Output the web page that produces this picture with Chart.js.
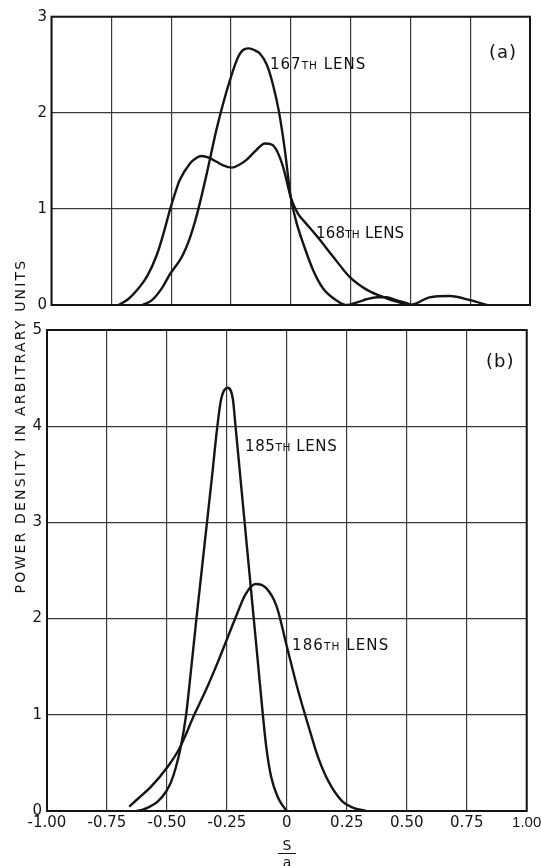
<!DOCTYPE html>
<html>
<head>
<meta charset="utf-8">
<script src="https://cdn.jsdelivr.net/npm/chart.js@4"></script>
<style>
html,body{margin:0;padding:0;background:#fff;width:541px;height:866px;overflow:hidden;position:relative;}
canvas{position:absolute;left:0;}
#ca{top:0;}
#cb{top:310px;}
.lbl{position:absolute;font-family:'DejaVu Sans',sans-serif;font-size:15px;color:#111;white-space:nowrap;line-height:1;}
.lbl small{font-size:10.5px;}
.tag{position:absolute;font-family:'DejaVu Sans',sans-serif;font-size:18px;color:#111;line-height:1;letter-spacing:1px;}
#ytitle{position:absolute;left:-150.5px;top:418px;width:340px;height:16px;line-height:16px;text-align:center;
  transform:rotate(-90deg);transform-origin:50% 50%;font-family:'DejaVu Sans',sans-serif;font-size:14px;letter-spacing:2.2px;color:#111;white-space:nowrap;}
#frac{position:absolute;left:278px;top:838px;width:18px;font-family:'DejaVu Sans',sans-serif;font-size:14px;color:#111;text-align:center;line-height:1;}
#frac .num{display:block;border-bottom:1.5px solid #111;padding-bottom:1px;}
#frac .den{display:block;padding-top:1px;}
</style>
</head>
<body>
<canvas id="ca" width="580" height="320"></canvas>
<canvas id="cb" width="580" height="556"></canvas>

<div class="lbl" style="left:270px;top:57px;letter-spacing:1px;">167<small>TH</small> LENS</div>
<div class="lbl" style="left:316px;top:226px;letter-spacing:0.2px;">168<small>TH</small> LENS</div>
<div class="tag" style="left:489px;top:43px;">(a)</div>
<div class="lbl" style="left:245px;top:439px;letter-spacing:0.6px;">185<small>TH</small> LENS</div>
<div class="lbl" style="left:292px;top:638px;letter-spacing:1.1px;">186<small>TH</small> LENS</div>
<div class="tag" style="left:486px;top:352px;">(b)</div>
<div id="ytitle">POWER DENSITY IN ARBITRARY UNITS</div>
<div id="frac"><span class="num">S</span><span class="den">a</span></div>

<script>
// ---- data ----
const xTickLabels = ['-1.00','-0.75','-0.50','-0.25','0','0.25','0.50','0.75','1.00'];
const yTicksA = ['0','1','2','3'];
const yTicksB = ['0','1','2','3','4','5'];

// Panel (a): 167th lens
const lens167X = [-0.62,-0.58,-0.54,-0.505,-0.46,-0.44,-0.42,-0.40,-0.38,-0.35,-0.311,-0.28,-0.254,-0.22,-0.195,-0.174,-0.15,-0.13,-0.10,-0.075,-0.05,-0.025,0.0,0.025,0.052,0.094,0.136,0.19,0.23,0.28,0.317,0.36,0.40,0.44,0.47,0.51];
const lens167Y = [0,0.05,0.17,0.32,0.48,0.58,0.71,0.87,1.06,1.38,1.82,2.12,2.34,2.58,2.66,2.67,2.65,2.62,2.50,2.30,2.02,1.62,1.12,0.85,0.64,0.36,0.17,0.05,0.0,0.03,0.06,0.08,0.08,0.05,0.03,0];
// Panel (a): 168th lens
const lens168X = [-0.72,-0.68,-0.631,-0.60,-0.56,-0.53,-0.505,-0.48,-0.464,-0.422,-0.395,-0.373,-0.34,-0.31,-0.28,-0.247,-0.215,-0.185,-0.145,-0.108,-0.08,-0.059,-0.03,0.0,0.03,0.06,0.108,0.178,0.247,0.317,0.40,0.45,0.50,0.58,0.665,0.75,0.82];
const lens168Y = [0,0.06,0.19,0.30,0.52,0.76,0.99,1.19,1.30,1.47,1.53,1.55,1.53,1.49,1.45,1.43,1.46,1.51,1.61,1.68,1.67,1.61,1.42,1.12,0.95,0.86,0.72,0.50,0.29,0.16,0.07,0.03,0.0,0.08,0.094,0.05,0];
// Panel (b): 185th lens
const lens185X = [-0.63,-0.60,-0.58,-0.54,-0.504,-0.483,-0.462,-0.442,-0.42,-0.398,-0.377,-0.355,-0.333,-0.311,-0.292,-0.274,-0.247,-0.225,-0.214,-0.195,-0.176,-0.157,-0.138,-0.119,-0.10,-0.086,-0.065,-0.038,-0.017,0];
const lens185Y = [0,0.015,0.035,0.094,0.20,0.30,0.46,0.67,1.0,1.5,2.0,2.5,3.0,3.5,3.95,4.28,4.40,4.28,4.0,3.5,3.0,2.5,2.0,1.5,1.0,0.67,0.35,0.146,0.055,0];
// Panel (b): 186th lens
const lens186X = [-0.657,-0.62,-0.567,-0.497,-0.448,-0.386,-0.337,-0.289,-0.217,-0.173,-0.13,-0.087,-0.043,0,0.046,0.10,0.13,0.173,0.231,0.275,0.33];
const lens186Y = [0.045,0.13,0.25,0.46,0.65,1.0,1.26,1.54,1.99,2.25,2.36,2.32,2.13,1.71,1.26,0.80,0.56,0.31,0.10,0.035,0];

// ---- helpers ----
const pts = (xs, ys) => xs.map((x, i) => ({x: x, y: ys[i]}));
const INK = '#151515';
const FONT = {family: "'DejaVu Sans', sans-serif", size: 15};
const FONT_NARROW = {family: "'Liberation Sans', sans-serif", size: 15};

const framePlugin = {
  id: 'frame',
  afterDraw(chart) {
    const a = chart.chartArea, c = chart.ctx;
    c.save();
    c.strokeStyle = INK;
    c.lineWidth = 2;
    c.strokeRect(a.left, a.top, a.right - a.left, a.bottom - a.top);
    c.restore();
  }
};

function lineDs(data) {
  return {
    data: data,
    borderColor: INK,
    borderWidth: 2.4,
    pointRadius: 0,
    fill: false,
    cubicInterpolationMode: 'monotone'
  };
}

function makeChart(id, datasets, yMax, yLabels, opts) {
  return new Chart(document.getElementById(id), {
    type: 'line',
    data: {datasets: datasets},
    options: {
      responsive: false,
      animation: false,
      layout: {padding: opts.padding},
      plugins: {legend: {display: false}, tooltip: {enabled: false}},
      scales: {
        x: {
          type: 'linear', min: -1, max: 1,
          afterBuildTicks: s => { s.ticks = xTickLabels.map((t, i) => ({value: -1 + i * 0.25})); },
          ticks: {
            display: opts.showX,
            padding: 3,
            color: INK,
            font: ctx => (ctx.index === xTickLabels.length - 1 ? FONT_NARROW : FONT),
            maxRotation: 0,
            autoSkip: false,
            callback: (v, i) => xTickLabels[i]
          },
          grid: {color: '#3a3a3a', lineWidth: 1.2, drawTicks: false},
          border: {display: false},
          afterFit: s => { s.height = opts.xHeight; }
        },
        y: {
          type: 'linear', min: 0, max: yMax,
          afterBuildTicks: s => { s.ticks = yLabels.map((t, i) => ({value: i})); },
          ticks: {
            padding: opts.yPad,
            color: INK,
            font: FONT,
            autoSkip: false,
            callback: (v, i) => yLabels[i]
          },
          grid: {color: '#3a3a3a', lineWidth: 1.2, drawTicks: false},
          border: {display: false},
          afterFit: s => { s.width = opts.yWidth; }
        }
      }
    },
    plugins: [framePlugin]
  });
}

makeChart('ca', [lineDs(pts(lens167X, lens167Y)), lineDs(pts(lens168X, lens168Y))], 3, yTicksA,
  {padding: {left: 0, top: 16.7, right: 50, bottom: 15}, showX: false, xHeight: 0, yWidth: 51.5, yPad: 4.5});

makeChart('cb', [lineDs(pts(lens185X, lens185Y)), lineDs(pts(lens186X, lens186Y))], 5, yTicksB,
  {padding: {left: 0, top: 20, right: 53.3, bottom: 25}, showX: true, xHeight: 30, yWidth: 47, yPad: 5});
</script>
</body>
</html>
